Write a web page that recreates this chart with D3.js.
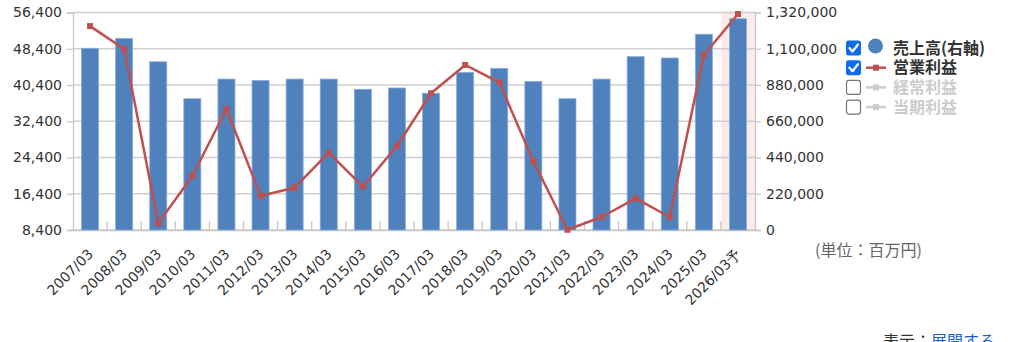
<!DOCTYPE html>
<html><head><meta charset="utf-8">
<script src="https://cdn.jsdelivr.net/npm/d3@7"></script>
<style>html,body{margin:0;padding:0;background:#fff;}svg{display:block;}</style>
</head><body>
<svg id="c" width="1024" height="342"></svg>
<script>
const categories = ["2007/03","2008/03","2009/03","2010/03","2011/03","2012/03","2013/03","2014/03","2015/03","2016/03","2017/03","2018/03","2019/03","2020/03","2021/03","2022/03","2023/03","2024/03","2025/03","2026/03予"];
const sales = [1103000,1163000,1021000,797000,916000,908000,916000,916000,854000,862000,830000,957000,981000,902000,797000,916000,1052000,1044000,1188000,1282000];
const operatingProfit = [53400,48350,9880,20320,35100,15970,17740,25460,17960,26940,38570,44820,41000,23560,8450,11270,15390,11270,47020,56070];
const leftTicks = [8400,16400,24400,32400,40400,48400,56400];
const rightTicks = [0,220000,440000,660000,880000,1100000,1320000];
const legendItems = [
  {label:"売上高(右軸)", on:true, type:"circle"},
  {label:"営業利益", on:true, type:"line"},
  {label:"経常利益", on:false, type:"line"},
  {label:"当期利益", on:false, type:"line"}
];

const svg = d3.select("#c");
const L = 73, R = 755, T = 12.5, B = 230;
const fmt = d3.format(",");
const axisFont = "'DejaVu Sans', Verdana, sans-serif";
const jpFont = "'Noto Sans CJK JP', sans-serif";

const x = d3.scaleBand().domain(categories).range([L, R]).paddingInner(0).paddingOuter(0);
const yL = d3.scaleLinear().domain([8400, 56400]).range([B, T]);
const yR = d3.scaleLinear().domain([0, 1320000]).range([B, T]);

// highlight last band
svg.append("rect").attr("x", x(categories[categories.length-1])).attr("y", T)
  .attr("width", x.bandwidth()).attr("height", B - T).attr("fill", "#fdeaea");

// gridlines
svg.append("g").selectAll("line").data(leftTicks).join("line")
  .attr("x1", L).attr("x2", R).attr("y1", d => yL(d)).attr("y2", d => yL(d))
  .attr("stroke", "#cfcfcf").attr("stroke-width", 1.3);

// left axis
const gL = svg.append("g").attr("transform", `translate(${L},0)`)
  .call(d3.axisLeft(yL).tickValues(leftTicks).tickFormat(fmt).tickSize(6).tickPadding(5));
gL.select(".domain").attr("stroke", "#c8c8c8").attr("stroke-width", 1.3);
gL.selectAll(".tick line").attr("stroke", "#c8c8c8").attr("stroke-width", 1.3);
gL.selectAll("text").attr("font-family", axisFont).attr("font-size", 14).attr("fill", "#333");

// right axis
const gR = svg.append("g").attr("transform", `translate(${R},0)`)
  .call(d3.axisRight(yR).tickValues(rightTicks).tickFormat(fmt).tickSize(6).tickPadding(5));
gR.select(".domain").attr("stroke", "#c8c8c8").attr("stroke-width", 1.3);
gR.selectAll(".tick line").attr("stroke", "#c8c8c8").attr("stroke-width", 1.3);
gR.selectAll("text").attr("font-family", axisFont).attr("font-size", 14).attr("fill", "#333");

// bottom axis
const gB = svg.append("g").attr("transform", `translate(0,${B})`)
  .call(d3.axisBottom(x).tickSize(0).tickPadding(0));
gB.select(".domain").attr("stroke", "#c8c8c8").attr("stroke-width", 1.3);
gB.selectAll("text").attr("font-family", axisFont).attr("font-size", 14).attr("fill", "#333")
  .attr("text-anchor", "end").attr("x", 0).attr("y", 0).attr("dy", 0)
  .attr("transform", "translate(4,25) rotate(-45)");
// category boundary ticks (inward)
svg.append("g").selectAll("line").data(categories.slice(1)).join("line")
  .attr("x1", d => x(d)).attr("x2", d => x(d)).attr("y1", B - 9).attr("y2", B)
  .attr("stroke", "#c8c8c8").attr("stroke-width", 1.3);

// bars
const bw = x.bandwidth() * 0.5;
svg.append("g").selectAll("rect").data(sales).join("rect")
  .attr("x", (d, i) => x(categories[i]) + (x.bandwidth() - bw) / 2)
  .attr("y", d => yR(d)).attr("width", bw).attr("height", d => B - yR(d))
  .attr("fill", "#4f81bd").attr("stroke", "#8eaedb").attr("stroke-width", 0.8);

// line
const line = d3.line().x((d, i) => x(categories[i]) + x.bandwidth() / 2).y(d => yL(d));
svg.append("path").datum(operatingProfit).attr("d", line)
  .attr("fill", "none").attr("stroke", "#c0504d").attr("stroke-width", 2.5).attr("stroke-linejoin", "round");
svg.append("g").selectAll("rect").data(operatingProfit).join("rect")
  .attr("x", (d, i) => x(categories[i]) + x.bandwidth() / 2 - 3)
  .attr("y", d => yL(d) - 3).attr("width", 6).attr("height", 6).attr("fill", "#c0504d");

// legend
const lg = svg.append("g");
legendItems.forEach((it, i) => {
  const cy = 48 + i * 19.7;
  const g = lg.append("g");
  if (it.on) {
    g.append("rect").attr("x", 846).attr("y", cy - 7.5).attr("width", 15).attr("height", 15).attr("rx", 2.5).attr("fill", "#0b6ee8");
    g.append("path").attr("d", `M${849.5},${cy} L${852.5},${cy + 3.5} L${858},${cy - 3.5}`)
      .attr("fill", "none").attr("stroke", "#fff").attr("stroke-width", 2.2).attr("stroke-linecap", "round").attr("stroke-linejoin", "round");
  } else {
    g.append("rect").attr("x", 846.5).attr("y", cy - 7).attr("width", 14).attr("height", 14).attr("rx", 2.5).attr("fill", "#fff").attr("stroke", "#767676").attr("stroke-width", 1.2);
  }
  const col = it.on ? (it.type === "circle" ? "#4f81bd" : "#c0504d") : "#cccccc";
  if (it.type === "circle") {
    g.append("circle").attr("cx", 875.5).attr("cy", cy - 2).attr("r", 7.5).attr("fill", col);
  } else {
    g.append("line").attr("x1", 866).attr("x2", 886).attr("y1", cy).attr("y2", cy).attr("stroke", col).attr("stroke-width", 2.5);
    g.append("rect").attr("x", 873).attr("y", cy - 3).attr("width", 6).attr("height", 6).attr("fill", col);
  }
  g.append("text").attr("x", 893).attr("y", cy + 5.5).text(it.label)
    .attr("font-family", jpFont).attr("font-weight", "bold").attr("font-size", 16)
    .attr("fill", it.on ? "#333" : "#cccccc");
});

// unit note
svg.append("text").attr("x", 815).attr("y", 256).text("(単位：百万円)")
  .attr("font-family", jpFont).attr("font-size", 16).attr("fill", "#666");

// bottom link
const t = svg.append("text").attr("x", 883).attr("y", 347).attr("font-family", jpFont).attr("font-size", 16);
t.append("tspan").text("表示：").attr("fill", "#333");
t.append("tspan").text("展開する").attr("fill", "#1a5fd0");
</script>
</body></html>
